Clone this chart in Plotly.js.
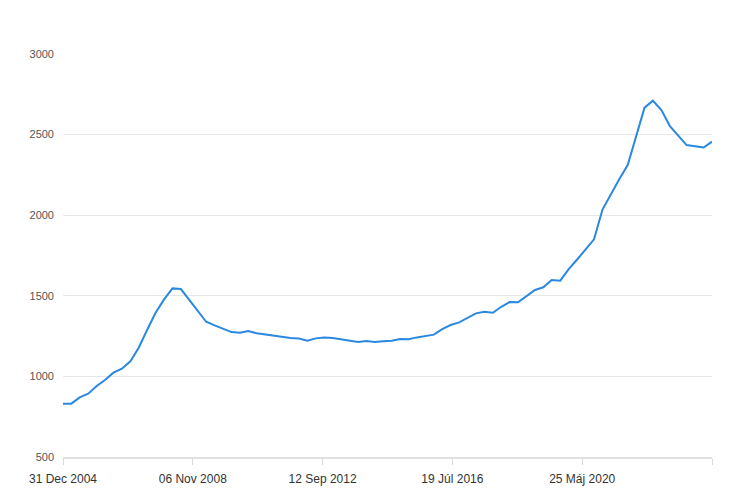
<!DOCTYPE html>
<html>
<head>
<meta charset="utf-8">
<script src="https://cdn.plot.ly/plotly-3.0.1.min.js"></script>
<style>html,body{margin:0;padding:0;background:#fff;}#chart{width:743px;height:504px;}</style>
</head>
<body>
<div id="chart"></div>
<script>
// Quarter-end dates, 2004 Q4 .. 2024 Q1
const dates = [
  '2004-12-31',
  '2005-03-31','2005-06-30','2005-09-30','2005-12-31',
  '2006-03-31','2006-06-30','2006-09-30','2006-12-31',
  '2007-03-31','2007-06-30','2007-09-30','2007-12-31',
  '2008-03-31','2008-06-30','2008-09-30','2008-12-31',
  '2009-03-31','2009-06-30','2009-09-30','2009-12-31',
  '2010-03-31','2010-06-30','2010-09-30','2010-12-31',
  '2011-03-31','2011-06-30','2011-09-30','2011-12-31',
  '2012-03-31','2012-06-30','2012-09-30','2012-12-31',
  '2013-03-31','2013-06-30','2013-09-30','2013-12-31',
  '2014-03-31','2014-06-30','2014-09-30','2014-12-31',
  '2015-03-31','2015-06-30','2015-09-30','2015-12-31',
  '2016-03-31','2016-06-30','2016-09-30','2016-12-31',
  '2017-03-31','2017-06-30','2017-09-30','2017-12-31',
  '2018-03-31','2018-06-30','2018-09-30','2018-12-31',
  '2019-03-31','2019-06-30','2019-09-30','2019-12-31',
  '2020-03-31','2020-06-30','2020-09-30','2020-12-31',
  '2021-03-31','2021-06-30','2021-09-30','2021-12-31',
  '2022-03-31','2022-06-30','2022-09-30','2022-12-31',
  '2023-03-31','2023-06-30','2023-09-30','2023-12-31',
  '2024-03-31'
];
const values = [
  831,
  831, 870, 893, 940,
  978, 1023, 1048, 1094,
  1178, 1288, 1395, 1478,
  1546, 1542, 1474, 1406,
  1339, 1317, 1294, 1275,
  1271, 1282, 1267, 1259,
  1251, 1246, 1238, 1235,
  1221, 1236, 1242, 1238,
  1230, 1221, 1213, 1220,
  1213, 1218, 1221, 1232,
  1230, 1242, 1251, 1259,
  1293, 1319, 1335, 1364,
  1391, 1401, 1395, 1432,
  1461, 1460, 1499, 1536,
  1553, 1598, 1594, 1665,
  1725, 1790, 1850, 2035,
  2131, 2223, 2311, 2495,
  2667, 2710, 2652, 2553,
  2493, 2435, 2428, 2420,
  2456
];
const tickDates = ['2004-12-31','2008-11-06','2012-09-12','2016-07-19','2020-05-25','2024-03-31'];
const tickLabels = ['31 Dec 2004','06 Nov 2008','12 Sep 2012','19 Júl 2016','25 Máj 2020',''];
const yTicks = [500, 1000, 1500, 2000, 2500, 3000];

Plotly.newPlot('chart', [{
  x: dates,
  y: values,
  type: 'scatter',
  mode: 'lines',
  line: {color: '#2b88e0', width: 2},
  hoverinfo: 'x+y'
}], {
  width: 743,
  height: 504,
  margin: {l: 63, r: 31, t: 54, b: 47},
  paper_bgcolor: '#ffffff',
  plot_bgcolor: '#ffffff',
  font: {family: 'Liberation Sans, Arial, sans-serif', size: 12, color: '#444'},
  showlegend: false,
  xaxis: {
    type: 'date',
    range: ['2004-12-31', '2024-03-31'],
    tickmode: 'array',
    tickvals: tickDates,
    ticktext: tickLabels,
    showgrid: false,
    zeroline: false,
    showline: true,
    linecolor: '#e0e0e0',
    linewidth: 2,
    ticks: 'outside',
    ticklen: 6,
    tickcolor: '#d8d8d8',
    tickwidth: 1,
    ticklabelstandoff: 4,
    tickfont: {size: 12, color: '#333'}
  },
  yaxis: {
    range: [500, 3000],
    tickmode: 'array',
    tickvals: yTicks,
    ticktext: yTicks.map(String),
    showgrid: true,
    gridcolor: '#e6e6e6',
    gridwidth: 1,
    zeroline: false,
    showline: false,
    ticks: '',
    ticklabelstandoff: 8,
    tickfont: {size: 11, color: '#555'}
  }
}, {displayModeBar: false, staticPlot: true});
</script>
</body>
</html>
